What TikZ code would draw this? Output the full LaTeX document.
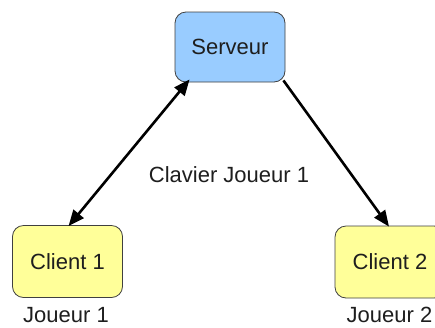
\documentclass[tikz,border=0pt]{standalone}
\usepackage{fontspec}
\setmainfont{Liberation Sans}
\usetikzlibrary{arrows.meta}
\definecolor{srvfill}{RGB}{153,204,255}
\definecolor{clifill}{RGB}{255,255,153}
\definecolor{inkgray}{RGB}{30,30,30}
\begin{document}
\begin{tikzpicture}[x=1pt,y=-1pt,
  box/.style={draw=black!75,line width=0.8pt,rounded corners=11pt,inner sep=0pt,
    font=\fontsize{22}{26}\selectfont,text=inkgray},
  srvbox/.style={box,fill=srvfill,minimum width=110pt,minimum height=70pt},
  clibox/.style={box,fill=clifill,minimum width=110pt,minimum height=72pt},
  lbl/.style={font=\fontsize{22}{26}\selectfont,text=inkgray,inner sep=0pt,anchor=base},
  link/.style={line width=2.6pt,black},
  tip/.style={-{Triangle[length=16pt,width=13pt]}},
  tips/.style={{Triangle[length=16pt,width=13pt]}-{Triangle[length=16pt,width=13pt]}}]
\useasboundingbox (0,0) rectangle (435,327);
\fill[white] (0,0) rectangle (435,327);

% server and the two clients
\node[srvbox] (srv) at (230,47) {Serveur};
\node[clibox] (c1) at (67.5,261.5) {Client 1};
\node[clibox] (c2) at (390,262) {Client 2};

% captions (placed by baseline)
\node[lbl] (j1) at (66,322.5) {Joueur 1};
\node[lbl] (j2) at (389.5,322.5) {Joueur 2};
\node[lbl] (kb) at (229,182) {Clavier Joueur 1};

% links
\draw[link,tips] ([xshift=15pt,yshift=3pt]srv.south west) -- ([xshift=1pt,yshift=-1pt]c1.north);
\draw[link,tip] ([xshift=-2pt,yshift=2pt]srv.south east) -- ([xshift=-1pt,yshift=-1pt]c2.north);
\end{tikzpicture}
\end{document}
